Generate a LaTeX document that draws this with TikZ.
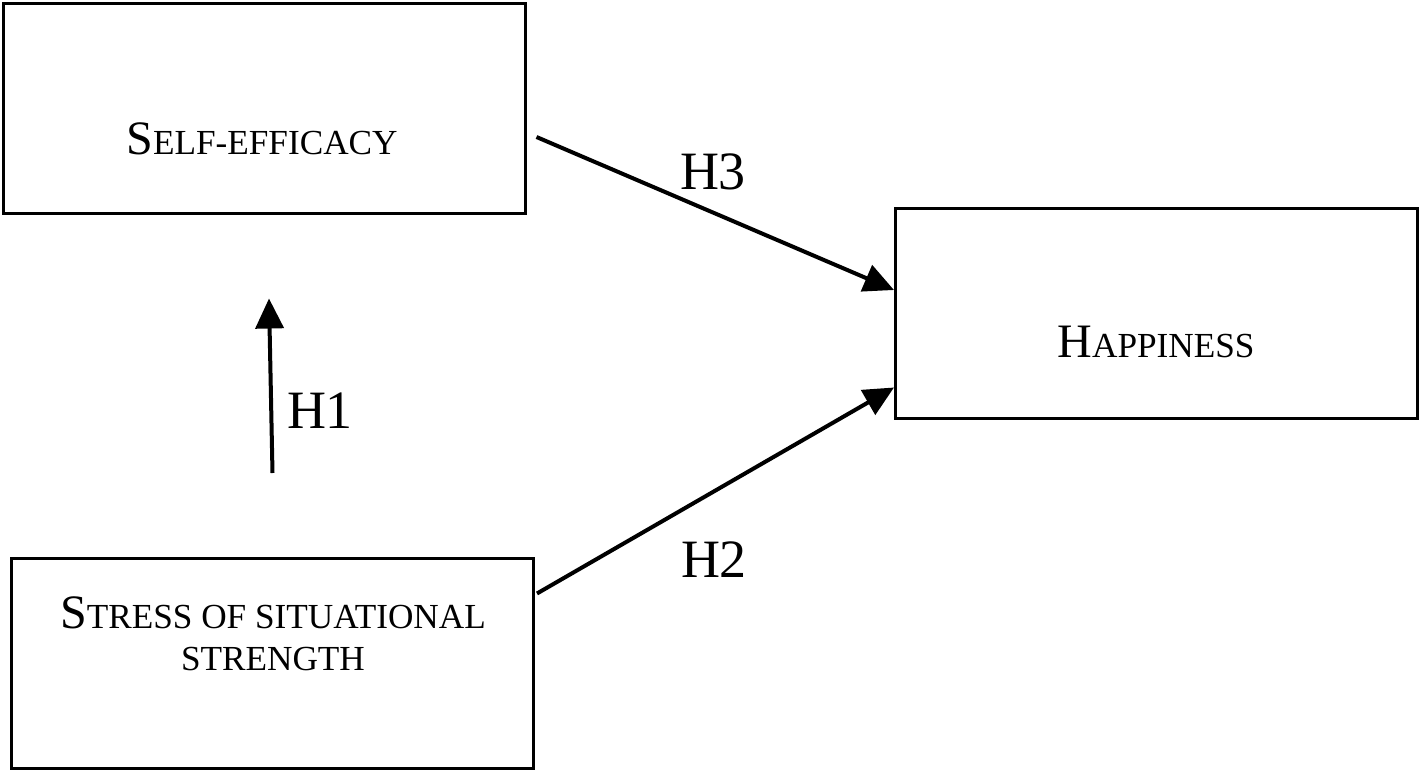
\documentclass[tikz,border=0pt]{standalone}
\usepackage{fontspec}
\setmainfont{Liberation Serif}
\usetikzlibrary{positioning, arrows.meta}

\newcommand{\fakesc}[2]{{\fontsize{24}{28}\selectfont #1}{\fontsize{17.6}{21}\selectfont #2}}

\begin{document}
\begin{tikzpicture}[x=0.5pt, y=-0.5pt,
    box/.style={rectangle, draw=black, line width=1.5pt, minimum width=261pt, minimum height=105pt, inner sep=0pt},
    boxtext/.style={anchor=base, inner sep=0pt, align=center},
    hyp/.style={-{Triangle[length=15pt, width=14pt]}, line width=2pt},
    hlabel/.style={font=\fontsize{27}{30}\selectfont, inner sep=0pt}]
    \useasboundingbox (0, 0) rectangle (1421, 771);

    \node[box] (self) at (264, 108) {};
    \node[box] (happy) at (1156.5, 313.5) {};
    \node[box] (stress) at (272.5, 663.5) {};

    \node[boxtext] (selftxt) at (262, 154) {\fakesc{S}{ELF-EFFICACY}};
    \node[boxtext] (happytxt) at (1156, 357) {\fakesc{H}{APPINESS}};
    \node[boxtext, anchor=north] (stresstxt) at (273, 596) {\fakesc{S}{TRESS OF SITUATIONAL}\\[9pt] \fakesc{}{STRENGTH}};

    \draw[hyp] ([yshift=42pt]stress.north) -- ([xshift=2.5pt, yshift=-42pt]self.south);
    \draw[hyp] ([xshift=1pt, yshift=35pt]stress.east) -- ([yshift=-37pt]happy.west);
    \draw[hyp] ([xshift=5pt, yshift=-14.5pt]self.east) -- ([yshift=11.75pt]happy.west);

    \node[hlabel] (h1) at (320, 411) {H1};
    \node[hlabel] (h2) at (714, 560) {H2};
    \node[hlabel] (h3) at (713, 172) {H3};
\end{tikzpicture}
\end{document}
